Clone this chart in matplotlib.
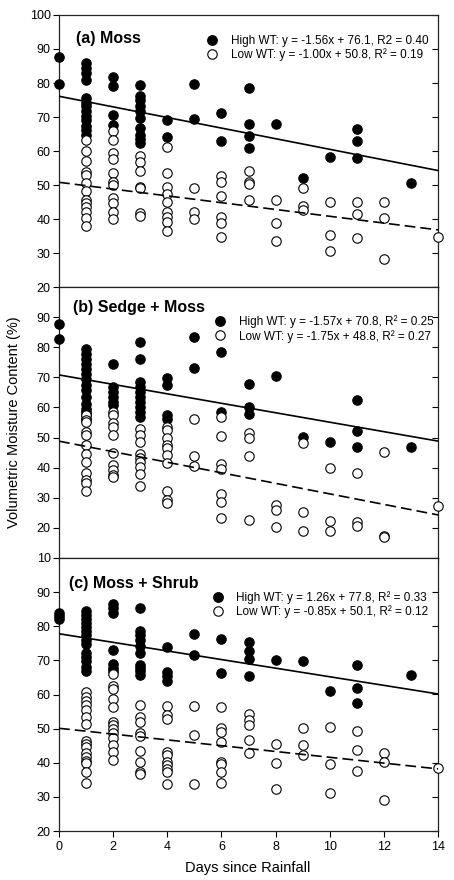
import matplotlib
matplotlib.use("Agg")
import matplotlib.pyplot as plt
from matplotlib.lines import Line2D

plt.rcParams["font.family"] = ["Liberation Sans", "DejaVu Sans"]

# volumetric moisture content (%) by days since rainfall
a_high = {0: [87.7, 79.8],
          1: [85.9, 84.4, 82.8, 81.0, 75.6, 74.1, 73.1, 71.7, 70.2, 69.0, 67.4, 66.2, 64.8],
          2: [81.8, 79.2, 70.7, 67.7],
          3: [79.5, 76.1, 75.0, 73.1, 71.7, 69.7, 66.7, 64.8, 63.5, 62.3],
          4: [69.2, 64.1], 5: [79.8, 69.4], 6: [71.2, 62.8],
          7: [78.5, 68.0, 64.3, 61.0], 8: [67.9], 9: [52.2], 10: [58.2],
          11: [66.5, 62.8, 57.9], 13: [50.5]}
a_low = {1: [63.3, 60.1, 57.2, 53.9, 53.0, 50.5, 48.3, 45.6, 44.6, 43.6, 42.1, 40.2, 37.9],
         2: [65.9, 63.3, 59.3, 57.6, 53.4, 51.0, 50.0, 46.1, 44.6, 42.1, 40.0],
         3: [58.6, 56.9, 54.2, 49.5, 49.0, 41.9, 40.8],
         4: [61.3, 53.4, 49.5, 47.3, 45.1, 42.1, 40.6, 39.2, 36.5],
         5: [49.2, 42.1, 40.0], 6: [52.7, 51.0, 46.8, 40.6, 38.9, 34.7],
         7: [54.2, 51.0, 50.2, 45.6], 8: [45.6, 38.7, 33.6], 9: [49.2, 43.8, 42.6],
         10: [45.1, 35.4, 30.6], 11: [44.9, 41.6, 34.5], 12: [45.1, 40.2, 28.3],
         14: [34.7]}

b_high = {0: [87.8, 82.8],
          1: [79.5, 77.9, 76.2, 74.5, 72.9, 71.2, 69.6, 67.4, 65.7, 63.5, 61.3, 59.6, 58.5, 57.4, 56.3],
          2: [74.3, 66.8, 65.2, 63.5, 61.9, 60.7],
          3: [81.9, 76.2, 68.5, 66.8, 65.2, 63.5, 61.9, 60.2, 58.5, 56.9],
          4: [69.9, 67.4, 57.4, 56.3], 5: [83.4, 73.2], 6: [78.4, 58.5],
          7: [67.7, 60.0, 57.7], 8: [70.4], 9: [50.3], 10: [48.6],
          11: [62.6, 52.1, 47.0], 13: [46.7]}
b_low = {1: [57.4, 55.8, 55.2, 51.9, 50.8, 47.5, 44.7, 42.0, 38.1, 35.9, 34.8, 32.1],
         2: [58.5, 57.4, 54.7, 53.6, 50.8, 45.0, 40.9, 39.2, 37.6, 37.0],
         3: [53.0, 50.8, 48.6, 44.7, 43.1, 42.0, 40.3, 37.9, 33.9],
         4: [53.4, 52.5, 49.7, 47.5, 46.4, 44.2, 41.4, 32.1, 29.3, 28.2],
         5: [56.3, 43.9, 40.7], 6: [56.9, 50.6, 41.2, 39.4, 31.3, 28.7, 23.4],
         7: [51.4, 50.0, 43.9, 22.7], 8: [27.6, 25.9, 20.2], 9: [48.1, 25.4, 19.1],
         10: [39.8, 22.3, 19.1], 11: [38.3, 21.9, 20.7], 12: [45.1, 17.4, 16.9],
         14: [27.4]}

c_high = {0: [83.9, 82.9, 82.0],
          1: [84.4, 83.4, 82.2, 81.0, 79.8, 78.5, 77.3, 76.1, 74.9, 72.2, 71.0, 69.7, 68.2, 66.8],
          2: [86.4, 85.4, 83.9, 72.9, 68.9, 67.7, 66.8],
          3: [85.4, 78.5, 77.3, 75.9, 74.3, 72.2, 68.7, 67.7, 66.8, 65.8],
          4: [73.9, 66.5, 65.3, 64.0], 5: [77.8, 71.7], 6: [76.3, 66.3],
          7: [75.3, 72.8, 70.4, 65.3], 8: [70.0], 9: [69.7], 10: [60.9],
          11: [68.5, 61.9, 57.6], 13: [65.8]}
c_low = {1: [60.6, 59.4, 58.1, 56.8, 55.5, 53.5, 51.4, 46.5, 45.5, 44.5, 42.9, 41.8, 40.6, 39.8, 37.4, 34.2],
         2: [66.1, 62.4, 61.6, 58.6, 56.3, 51.8, 51.1, 49.8, 48.6, 47.2, 45.2, 43.2, 40.8],
         3: [56.8, 53.5, 52.0, 48.6, 47.9, 43.4, 40.3, 37.4, 36.7],
         4: [56.5, 54.0, 52.7, 43.2, 42.3, 40.3, 39.3, 38.3, 37.4, 33.9],
         5: [56.7, 48.1, 33.7], 6: [56.2, 50.1, 49.1, 46.0, 40.3, 39.5, 37.4, 34.2],
         7: [54.3, 52.4, 51.1, 46.7, 43.0], 8: [45.5, 39.8, 32.2], 9: [50.1, 45.2, 42.3],
         10: [50.6, 39.5, 31.0], 11: [49.4, 43.7, 37.6], 12: [42.9, 40.3, 29.0],
         14: [38.6]}

titles = ["(a) Moss", "(b) Sedge + Moss", "(c) Moss + Shrub"]
high_fit = [(-1.56, 76.1), (-1.57, 70.8), (-1.26, 77.8)]
low_fit = [(-1.00, 50.8), (-1.75, 48.8), (-0.85, 50.1)]
high_lbl = ["High WT: y = -1.56x + 76.1, R2 = 0.40",
            "High WT: y = -1.57x + 70.8, R\u00b2 = 0.25",
            "High WT: y = 1.26x + 77.8, R\u00b2 = 0.33"]
low_lbl = ["Low WT: y = -1.00x + 50.8, R\u00b2 = 0.19",
           "Low WT: y = -1.75x + 48.8, R\u00b2 = 0.27",
           "Low WT: y = -0.85x + 50.1, R\u00b2 = 0.12"]
ylims = [(20, 100), (10, 100), (20, 100)]
yticks = [range(20, 101, 10), range(10, 91, 10), range(20, 91, 10)]
highs = [a_high, b_high, c_high]
lows = [a_low, b_low, c_low]

# per-panel placement (axes fraction)
title_xy = [(0.045, 0.915), (0.037, 0.926), (0.026, 0.908)]
leg_xy = [(0.975, 0.926), (0.988, 0.895), (0.975, 0.878)]


def flat(d):
    xs, ys = [], []
    for k, v in d.items():
        xs += [k] * len(v); ys += v
    return xs, ys


fig = plt.figure(figsize=(4.54, 8.8), dpi=100)
L, W = 59 / 454, 379 / 454
edges = [15, 287, 558, 831]
for i in range(3):
    top, bot = edges[i], edges[i + 1]
    ax = fig.add_axes([L, 1 - bot / 880, W, (bot - top) / 880])
    hx, hy = flat(highs[i]); lx, ly = flat(lows[i])
    ax.plot(hx, hy, "o", ms=6.8, mfc="black", mec="black", mew=0.8, clip_on=False, zorder=3)
    ax.plot(lx, ly, "o", ms=6.8, mfc="white", mec="black", mew=0.8, clip_on=False, zorder=4)
    xx = [0, 14]
    m, b = high_fit[i]
    ax.plot(xx, [m * x + b for x in xx], "-", color="black", lw=1.2, zorder=5)
    m, b = low_fit[i]
    ax.plot(xx, [m * x + b for x in xx], color="black", lw=1.2, ls=(0, (6.5, 3)), zorder=5)
    ax.set_xlim(0, 14); ax.set_ylim(*ylims[i])
    ax.set_yticks(list(yticks[i]))
    ax.set_xticks(range(0, 15, 2))
    ax.tick_params(axis="y", direction="out", length=4, width=0.8, labelsize=9, pad=2)
    ax.tick_params(axis="x", direction="out", length=4, width=0.8, labelsize=9, pad=3, top=False)
    if i < 2:
        ax.tick_params(axis="x", labelbottom=False)
    for s in ax.spines.values():
        s.set_linewidth(0.9); s.set_color("#222222")
    ay = ax.secondary_yaxis("right")
    ay.set_yticks(list(yticks[i]))
    ay.tick_params(direction="in", length=4, width=0.8, labelright=False)
    ay.spines["right"].set_visible(False)
    ax.text(*title_xy[i], titles[i], transform=ax.transAxes, fontsize=11.5,
            fontweight="bold", va="center", ha="left")
    handles = [Line2D([], [], ls="none", marker="o", ms=6.8, mfc="black", mec="black"),
               Line2D([], [], ls="none", marker="o", ms=6.8, mfc="white", mec="black", mew=0.8)]
    ax.legend(handles, [high_lbl[i], low_lbl[i]], loc="upper right",
              bbox_to_anchor=leg_xy[i], frameon=False, fontsize=8.5,
              handletextpad=1.1, labelspacing=0.12, borderpad=0, handlelength=1.0,
              borderaxespad=0)

fig.text(14 / 454, 1 - 422 / 880, "Volumetric Moisture Content (%)", rotation=90,
         fontsize=10.5, va="center", ha="center")
fig.text(248 / 454, 1 - 868 / 880, "Days since Rainfall", fontsize=10.5,
         va="center", ha="center")
fig.savefig("out.png", dpi=100, facecolor="white")
